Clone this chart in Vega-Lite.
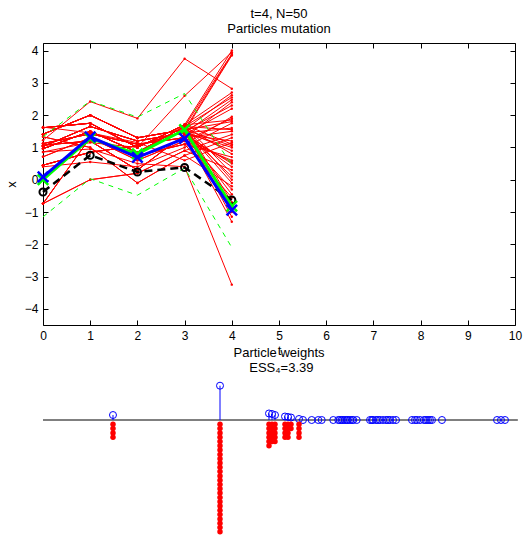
{
"$schema":"https://vega.github.io/schema/vega-lite/v6.json",
"width":472,"height":282,
"autosize":{"type":"none"},
"padding":{"left":43,"top":43,"right":11,"bottom":211},
"background":"white",
"title":{"text":["t=4, N=50","Particles mutation"],"font":"Liberation Sans","fontSize":13,"fontWeight":"normal","color":"black","lineHeight":15,"offset":7,"frame":"group","anchor":"middle"},
"config":{
 "view":{"stroke":"black","strokeWidth":1},
 "axis":{"grid":false,"domain":false,"tickColor":"black","tickSize":-5,"tickWidth":1,"labelColor":"black","labelFont":"Liberation Sans","labelFontSize":12,"titleFont":"Liberation Sans","titleFontSize":13,"titleFontWeight":"normal","titleColor":"black","labelPadding":10,"labelFlush":false,"labelOverlap":false}
},
"datasets":{
"red":[
{"p":1,"t":0,"x":1.22},{"p":1,"t":1,"x":2.42},{"p":1,"t":2,"x":1.9},{"p":1,"t":3,"x":3.75},{"p":1,"t":4,"x":2.82},
{"p":2,"t":0,"x":0.86},{"p":2,"t":1,"x":1.15},{"p":2,"t":2,"x":1.0},{"p":2,"t":3,"x":2.6},{"p":2,"t":4,"x":3.95},
{"p":3,"t":0,"x":1.61},{"p":3,"t":1,"x":1.75},{"p":3,"t":2,"x":1.0},{"p":3,"t":3,"x":1.7},{"p":3,"t":4,"x":4.0},
{"p":4,"t":0,"x":0.96},{"p":4,"t":1,"x":1.5},{"p":4,"t":2,"x":0.85},{"p":4,"t":3,"x":1.65},{"p":4,"t":4,"x":3.9},
{"p":5,"t":0,"x":1.41},{"p":5,"t":1,"x":2.0},{"p":5,"t":2,"x":1.3},{"p":5,"t":3,"x":1.55},{"p":5,"t":4,"x":3.88},
{"p":6,"t":0,"x":0.45},{"p":6,"t":1,"x":0.85},{"p":6,"t":2,"x":1.05},{"p":6,"t":3,"x":1.5},{"p":6,"t":4,"x":3.85},
{"p":7,"t":0,"x":1.61},{"p":7,"t":1,"x":1.75},{"p":7,"t":2,"x":1.0},{"p":7,"t":3,"x":1.7},{"p":7,"t":4,"x":2.7},
{"p":8,"t":0,"x":1.41},{"p":8,"t":1,"x":2.0},{"p":8,"t":2,"x":1.3},{"p":8,"t":3,"x":1.55},{"p":8,"t":4,"x":2.62},
{"p":9,"t":0,"x":0.96},{"p":9,"t":1,"x":1.5},{"p":9,"t":2,"x":0.85},{"p":9,"t":3,"x":1.65},{"p":9,"t":4,"x":2.55},
{"p":10,"t":0,"x":1.03},{"p":10,"t":1,"x":1.65},{"p":10,"t":2,"x":1.2},{"p":10,"t":3,"x":1.45},{"p":10,"t":4,"x":2.48},
{"p":11,"t":0,"x":1.12},{"p":11,"t":1,"x":1.42},{"p":11,"t":2,"x":1.1},{"p":11,"t":3,"x":1.3},{"p":11,"t":4,"x":2.4},
{"p":12,"t":0,"x":0.45},{"p":12,"t":1,"x":0.85},{"p":12,"t":2,"x":1.05},{"p":12,"t":3,"x":1.5},{"p":12,"t":4,"x":2.3},
{"p":13,"t":0,"x":1.07},{"p":13,"t":1,"x":1.2},{"p":13,"t":2,"x":0.3},{"p":13,"t":3,"x":1.4},{"p":13,"t":4,"x":2.2},
{"p":14,"t":0,"x":-0.74},{"p":14,"t":1,"x":1.3},{"p":14,"t":2,"x":0.75},{"p":14,"t":3,"x":1.1},{"p":14,"t":4,"x":1.95},
{"p":15,"t":0,"x":0.71},{"p":15,"t":1,"x":1.3},{"p":15,"t":2,"x":0.6},{"p":15,"t":3,"x":1.2},{"p":15,"t":4,"x":1.9},
{"p":16,"t":0,"x":1.61},{"p":16,"t":1,"x":1.75},{"p":16,"t":2,"x":1.0},{"p":16,"t":3,"x":1.7},{"p":16,"t":4,"x":1.85},
{"p":17,"t":0,"x":1.41},{"p":17,"t":1,"x":2.0},{"p":17,"t":2,"x":1.3},{"p":17,"t":3,"x":1.55},{"p":17,"t":4,"x":1.8},
{"p":18,"t":0,"x":0.4},{"p":18,"t":1,"x":0.55},{"p":18,"t":2,"x":0.4},{"p":18,"t":3,"x":1.0},{"p":18,"t":4,"x":1.75},
{"p":19,"t":0,"x":1.03},{"p":19,"t":1,"x":1.65},{"p":19,"t":2,"x":1.2},{"p":19,"t":3,"x":1.45},{"p":19,"t":4,"x":1.6},
{"p":20,"t":0,"x":0.96},{"p":20,"t":1,"x":1.5},{"p":20,"t":2,"x":0.85},{"p":20,"t":3,"x":1.65},{"p":20,"t":4,"x":1.55},
{"p":21,"t":0,"x":1.12},{"p":21,"t":1,"x":1.42},{"p":21,"t":2,"x":1.1},{"p":21,"t":3,"x":1.3},{"p":21,"t":4,"x":1.5},
{"p":22,"t":0,"x":-0.74},{"p":22,"t":1,"x":0.0},{"p":22,"t":2,"x":0.2},{"p":22,"t":3,"x":0.9},{"p":22,"t":4,"x":1.4},
{"p":23,"t":0,"x":1.33},{"p":23,"t":1,"x":1.0},{"p":23,"t":2,"x":-0.1},{"p":23,"t":3,"x":0.75},{"p":23,"t":4,"x":1.3},
{"p":24,"t":0,"x":1.07},{"p":24,"t":1,"x":1.2},{"p":24,"t":2,"x":0.3},{"p":24,"t":3,"x":1.4},{"p":24,"t":4,"x":1.2},
{"p":25,"t":0,"x":1.63},{"p":25,"t":1,"x":1.45},{"p":25,"t":2,"x":1.15},{"p":25,"t":3,"x":0.6},{"p":25,"t":4,"x":1.15},
{"p":26,"t":0,"x":1.61},{"p":26,"t":1,"x":1.75},{"p":26,"t":2,"x":1.0},{"p":26,"t":3,"x":1.7},{"p":26,"t":4,"x":1.1},
{"p":27,"t":0,"x":1.41},{"p":27,"t":1,"x":2.0},{"p":27,"t":2,"x":1.3},{"p":27,"t":3,"x":1.55},{"p":27,"t":4,"x":1.05},
{"p":28,"t":0,"x":1.03},{"p":28,"t":1,"x":1.65},{"p":28,"t":2,"x":1.2},{"p":28,"t":3,"x":1.45},{"p":28,"t":4,"x":1.0},
{"p":29,"t":0,"x":0.45},{"p":29,"t":1,"x":0.85},{"p":29,"t":2,"x":1.05},{"p":29,"t":3,"x":1.5},{"p":29,"t":4,"x":0.9},
{"p":30,"t":0,"x":0.96},{"p":30,"t":1,"x":1.5},{"p":30,"t":2,"x":0.85},{"p":30,"t":3,"x":1.65},{"p":30,"t":4,"x":0.8},
{"p":31,"t":0,"x":-0.74},{"p":31,"t":1,"x":1.3},{"p":31,"t":2,"x":0.75},{"p":31,"t":3,"x":1.1},{"p":31,"t":4,"x":0.7},
{"p":32,"t":0,"x":0.71},{"p":32,"t":1,"x":1.3},{"p":32,"t":2,"x":0.6},{"p":32,"t":3,"x":1.2},{"p":32,"t":4,"x":0.6},
{"p":33,"t":0,"x":1.12},{"p":33,"t":1,"x":1.42},{"p":33,"t":2,"x":1.1},{"p":33,"t":3,"x":1.3},{"p":33,"t":4,"x":0.55},
{"p":34,"t":0,"x":1.07},{"p":34,"t":1,"x":1.2},{"p":34,"t":2,"x":0.3},{"p":34,"t":3,"x":1.4},{"p":34,"t":4,"x":0.5},
{"p":35,"t":0,"x":1.03},{"p":35,"t":1,"x":1.65},{"p":35,"t":2,"x":1.2},{"p":35,"t":3,"x":1.45},{"p":35,"t":4,"x":0.4},
{"p":36,"t":0,"x":-0.74},{"p":36,"t":1,"x":0.0},{"p":36,"t":2,"x":0.2},{"p":36,"t":3,"x":0.9},{"p":36,"t":4,"x":0.3},
{"p":37,"t":0,"x":1.61},{"p":37,"t":1,"x":1.75},{"p":37,"t":2,"x":1.0},{"p":37,"t":3,"x":1.7},{"p":37,"t":4,"x":0.2},
{"p":38,"t":0,"x":0.45},{"p":38,"t":1,"x":0.85},{"p":38,"t":2,"x":1.05},{"p":38,"t":3,"x":1.5},{"p":38,"t":4,"x":0.1},
{"p":39,"t":0,"x":0.96},{"p":39,"t":1,"x":1.5},{"p":39,"t":2,"x":0.85},{"p":39,"t":3,"x":1.65},{"p":39,"t":4,"x":0.0},
{"p":40,"t":0,"x":1.41},{"p":40,"t":1,"x":2.0},{"p":40,"t":2,"x":1.3},{"p":40,"t":3,"x":1.55},{"p":40,"t":4,"x":-0.1},
{"p":41,"t":0,"x":1.33},{"p":41,"t":1,"x":1.0},{"p":41,"t":2,"x":-0.1},{"p":41,"t":3,"x":0.75},{"p":41,"t":4,"x":-0.2},
{"p":42,"t":0,"x":1.12},{"p":42,"t":1,"x":1.42},{"p":42,"t":2,"x":1.1},{"p":42,"t":3,"x":1.3},{"p":42,"t":4,"x":-0.3},
{"p":43,"t":0,"x":1.03},{"p":43,"t":1,"x":1.65},{"p":43,"t":2,"x":1.2},{"p":43,"t":3,"x":1.45},{"p":43,"t":4,"x":-0.45},
{"p":44,"t":0,"x":-0.74},{"p":44,"t":1,"x":1.3},{"p":44,"t":2,"x":0.75},{"p":44,"t":3,"x":1.1},{"p":44,"t":4,"x":-0.55},
{"p":45,"t":0,"x":1.61},{"p":45,"t":1,"x":1.75},{"p":45,"t":2,"x":1.0},{"p":45,"t":3,"x":1.7},{"p":45,"t":4,"x":-0.7},
{"p":46,"t":0,"x":0.96},{"p":46,"t":1,"x":1.5},{"p":46,"t":2,"x":0.85},{"p":46,"t":3,"x":1.65},{"p":46,"t":4,"x":-0.85},
{"p":47,"t":0,"x":0.45},{"p":47,"t":1,"x":0.85},{"p":47,"t":2,"x":1.05},{"p":47,"t":3,"x":1.5},{"p":47,"t":4,"x":-1.0},
{"p":48,"t":0,"x":1.41},{"p":48,"t":1,"x":2.0},{"p":48,"t":2,"x":1.3},{"p":48,"t":3,"x":1.55},{"p":48,"t":4,"x":-1.15},
{"p":49,"t":0,"x":1.07},{"p":49,"t":1,"x":1.2},{"p":49,"t":2,"x":0.3},{"p":49,"t":3,"x":1.4},{"p":49,"t":4,"x":-1.3},
{"p":50,"t":0,"x":0.86},{"p":50,"t":1,"x":0.95},{"p":50,"t":2,"x":0.5},{"p":50,"t":3,"x":0.4},{"p":50,"t":4,"x":-3.25}
],
"est":[{"t":0,"x":0.09},{"t":1,"x":1.33},{"t":2,"x":0.69},{"t":3,"x":1.28},{"t":4,"x":-0.94}],
"tru":[{"t":0,"x":0.0},{"t":1,"x":1.28},{"t":2,"x":0.8},{"t":3,"x":1.55},{"t":4,"x":-0.82}],
"avg":[{"t":0,"x":-0.38},{"t":1,"x":0.76},{"t":2,"x":0.24},{"t":3,"x":0.38},{"t":4,"x":-0.63}],
"band":[
{"b":"up","t":0,"x":1.33},{"b":"up","t":1,"x":2.44},{"b":"up","t":2,"x":1.94},{"b":"up","t":3,"x":2.67},{"b":"up","t":4,"x":0.45},
{"b":"lo","t":0,"x":-1.15},{"b":"lo","t":1,"x":0.03},{"b":"lo","t":2,"x":-0.48},{"b":"lo","t":3,"x":0.36},{"b":"lo","t":4,"x":-2.1}
],
"wts":[
{"xx":1.483,"w":0.074},{"xx":3.75,"w":0.51},{"xx":4.788,"w":0.097},{"xx":4.852,"w":0.089},{"xx":4.915,"w":0.074},{"xx":5.127,"w":0.052},{"xx":5.191,"w":0.045},{"xx":5.254,"w":0.037},{"xx":5.424,"w":0.015},
{"xx":5.508,"w":0},{"xx":5.693,"w":0},{"xx":5.833,"w":0},{"xx":5.905,"w":0},{"xx":6.15,"w":0},{"xx":6.256,"w":0},{"xx":6.292,"w":0},{"xx":6.328,"w":0},{"xx":6.356,"w":0},{"xx":6.398,"w":0},
{"xx":6.434,"w":0},{"xx":6.462,"w":0},{"xx":6.504,"w":0},{"xx":6.547,"w":0},{"xx":6.574,"w":0},{"xx":6.646,"w":0},{"xx":6.928,"w":0},{"xx":6.97,"w":0},{"xx":6.992,"w":0},{"xx":7.055,"w":0},
{"xx":7.097,"w":0},{"xx":7.14,"w":0},{"xx":7.203,"w":0},{"xx":7.267,"w":0},{"xx":7.309,"w":0},{"xx":7.352,"w":0},{"xx":7.415,"w":0},{"xx":7.479,"w":0},{"xx":7.818,"w":0},{"xx":7.881,"w":0},
{"xx":7.924,"w":0},{"xx":7.987,"w":0},{"xx":8.072,"w":0},{"xx":8.114,"w":0},{"xx":8.157,"w":0},{"xx":8.199,"w":0},{"xx":8.242,"w":0},{"xx":8.453,"w":0},{"xx":9.619,"w":0},{"xx":9.703,"w":0},{"xx":9.788,"w":0}
],
"base":[{"xa":0,"xb":10.06,"w":0}],
"lab":[{"xx":5.0,"w":1.0,"txt":"Particle weights"},{"xx":5.05,"w":0.78,"txt":"ESS₄=3.39"}],
"kids":[
{"xx":1.483,"k":1},{"xx":1.483,"k":2},{"xx":1.483,"k":3},{"xx":1.483,"k":4},
{"xx":3.75,"k":1},{"xx":3.75,"k":2},{"xx":3.75,"k":3},{"xx":3.75,"k":4},{"xx":3.75,"k":5},{"xx":3.75,"k":6},{"xx":3.75,"k":7},{"xx":3.75,"k":8},{"xx":3.75,"k":9},{"xx":3.75,"k":10},{"xx":3.75,"k":11},{"xx":3.75,"k":12},{"xx":3.75,"k":13},{"xx":3.75,"k":14},{"xx":3.75,"k":15},{"xx":3.75,"k":16},{"xx":3.75,"k":17},{"xx":3.75,"k":18},{"xx":3.75,"k":19},{"xx":3.75,"k":20},{"xx":3.75,"k":21},{"xx":3.75,"k":22},{"xx":3.75,"k":23},{"xx":3.75,"k":24},{"xx":3.75,"k":25},{"xx":3.75,"k":26},
{"xx":4.788,"k":1},{"xx":4.788,"k":2},{"xx":4.788,"k":3},{"xx":4.788,"k":4},{"xx":4.788,"k":5},{"xx":4.788,"k":6},
{"xx":4.852,"k":1},{"xx":4.852,"k":2},{"xx":4.852,"k":3},{"xx":4.852,"k":4},{"xx":4.852,"k":5},
{"xx":4.915,"k":1},{"xx":4.915,"k":2},{"xx":4.915,"k":3},{"xx":4.915,"k":4},{"xx":4.915,"k":5},
{"xx":5.127,"k":1},{"xx":5.127,"k":2},{"xx":5.127,"k":3},{"xx":5.127,"k":4},
{"xx":5.191,"k":1},{"xx":5.191,"k":2},{"xx":5.191,"k":3},{"xx":5.191,"k":4},
{"xx":5.254,"k":1},{"xx":5.254,"k":2},
{"xx":5.424,"k":1},{"xx":5.424,"k":2},{"xx":5.424,"k":3},{"xx":5.424,"k":4}
]
},
"layer":[
{
 "encoding":{
  "x":{"field":"t","type":"quantitative","scale":{"domain":[0,10],"nice":false,"zero":false},"axis":{"orient":"bottom","values":[0,1,2,3,4,5,6,7,8,9,10],"title":"t","titlePadding":3}},
  "y":{"field":"x","type":"quantitative","scale":{"domain":[-4.5,4.235],"nice":false,"zero":false},"axis":{"orient":"left","values":[-4,-3,-2,-1,0,1,2,3,4],"title":"x","titlePadding":6}}
 },
 "layer":[
  {"data":{"name":"red"},"mark":{"type":"line","color":"#ff0000","strokeWidth":1},"encoding":{"detail":{"field":"p"}}},
  {"data":{"name":"red"},"mark":{"type":"point","shape":"circle","filled":true,"color":"#ff0000","size":6,"opacity":1}},
  {"data":{"name":"band"},"mark":{"type":"line","color":"#00ff00","strokeWidth":1,"strokeDash":[5,5]},"encoding":{"detail":{"field":"b"}}},
  {"data":{"name":"avg"},"mark":{"type":"line","color":"black","strokeWidth":2.5,"strokeDash":[8,5]}},
  {"data":{"name":"avg"},"mark":{"type":"point","shape":"circle","filled":false,"color":"black","strokeWidth":2,"size":50,"opacity":1}},
  {"data":{"name":"tru"},"mark":{"type":"line","color":"#00ff00","strokeWidth":3}},
  {"data":{"name":"tru"},"mark":{"type":"point","shape":"M-1,-1L1,1M-1,1L1,-1","filled":false,"color":"#00ff00","strokeWidth":2.5,"size":110,"opacity":1}},
  {"data":{"name":"est"},"mark":{"type":"line","color":"#0000ff","strokeWidth":3}},
  {"data":{"name":"est"},"mark":{"type":"point","shape":"M-1,-1L1,1M-1,1L1,-1","filled":false,"color":"#0000ff","strokeWidth":2.5,"size":110,"opacity":1}}
 ]
},
{
 "layer":[
  {"data":{"name":"base"},"mark":{"type":"rule","color":"black","strokeWidth":1},
   "encoding":{"x":{"field":"xa","type":"quantitative","scale":{"domain":[0,10],"nice":false,"zero":false},"axis":{"orient":"top","labels":false,"title":null,"values":[0,1,2,3,4,5,6,7,8,9,10]}},"x2":{"field":"xb"},
    "y":{"field":"w","type":"quantitative","scale":{"domain":[0,0.51],"range":[377,342.7],"nice":false,"zero":false},"axis":null}}},
  {"data":{"name":"wts"},"mark":{"type":"rule","color":"#0000ff","strokeWidth":1},
   "encoding":{"x":{"field":"xx","type":"quantitative"},"y":{"field":"w","type":"quantitative"},"y2":{"datum":0}}},
  {"data":{"name":"wts"},"mark":{"type":"point","shape":"circle","filled":false,"color":"#0000ff","strokeWidth":1,"size":49,"opacity":1},
   "encoding":{"x":{"field":"xx","type":"quantitative"},"y":{"field":"w","type":"quantitative"}}},
  {"data":{"name":"lab"},"mark":{"type":"text","font":"Liberation Sans","fontSize":13,"color":"black","baseline":"middle","align":"center"},
   "encoding":{"x":{"field":"xx","type":"quantitative"},"y":{"field":"w","type":"quantitative"},"text":{"field":"txt"}}}
 ]
},
{
 "data":{"name":"kids"},
 "mark":{"type":"point","shape":"circle","filled":true,"color":"#ff0000","size":30,"opacity":1},
 "encoding":{"x":{"field":"xx","type":"quantitative","scale":{"domain":[0,10],"nice":false,"zero":false},"axis":null},
  "y":{"field":"k","type":"quantitative","scale":{"domain":[0,30],"range":[377,506],"nice":false,"zero":false},"axis":null}}
},
{
 "data":{"name":"est"},
 "mark":{"type":"point","opacity":0},
 "encoding":{"x":{"field":"t","type":"quantitative","scale":{"domain":[0,10],"nice":false,"zero":false},"axis":null},
  "y":{"field":"x","type":"quantitative","scale":{"domain":[-4.5,4.235],"nice":false,"zero":false},"axis":{"orient":"right","labels":false,"title":null,"values":[-4,-3,-2,-1,0,1,2,3,4]}}}
}
],
"resolve":{"scale":{"y":"independent"},"axis":{"x":"independent","y":"independent"}}
}
